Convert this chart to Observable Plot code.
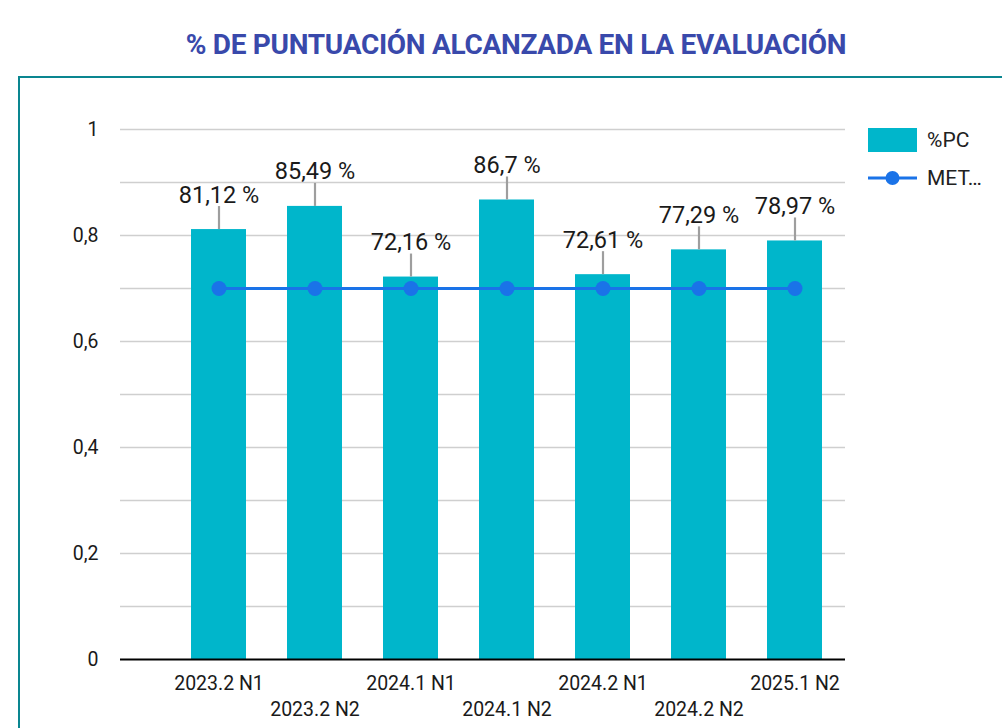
<!DOCTYPE html>
<html>
<head>
<meta charset="utf-8">
<script src="https://cdn.jsdelivr.net/npm/d3@7"></script>
<script src="https://cdn.jsdelivr.net/npm/@observablehq/plot@0.6"></script>
<style>
  html, body { margin: 0; padding: 0; background: #fff; }
  body { width: 1002px; height: 728px; overflow: hidden; font-family: Roboto, sans-serif; position: relative; }
  #title { position: absolute; left: 0; top: 0; width: 1032px; height: 76px; text-align: center;
           font-family: Roboto, sans-serif; font-weight: 700; font-size: 28px; color: #3949ab;
           line-height: 1; padding-top: 31px; box-sizing: border-box; letter-spacing: -0.3px; }
  #frame { position: absolute; left: 18px; top: 76px; width: 984px; height: 652px;
           border-top: 2px solid #0a8690; border-left: 2px solid #0a8690; box-sizing: border-box; }
  #chart { position: absolute; left: 0; top: 0; }
  .legend { position: absolute; font-family: Roboto, sans-serif; font-size: 21px; color: #212121; }
  .legend .row { position: absolute; left: 0; height: 24px; white-space: nowrap; }
  .legend .sw { position: absolute; left: 0; top: 0; width: 49px; height: 24px; }
  .legend .lab { position: absolute; left: 59px; top: 0; line-height: 24px; }
</style>
</head>
<body>
<div id="title"></div>
<div id="frame">
  <div id="chart"></div>
  <div class="legend" id="legend" style="left:848px; top:50px;"></div>
</div>
<script>
const title = "% DE PUNTUACIÓN ALCANZADA EN LA EVALUACIÓN";
const categories = ["2023.2 N1", "2023.2 N2", "2024.1 N1", "2024.1 N2", "2024.2 N1", "2024.2 N2", "2025.1 N2"];
const pcValues = [0.8112, 0.8549, 0.7216, 0.867, 0.7261, 0.7729, 0.7897];
const metaValues = [0.7, 0.7, 0.7, 0.7, 0.7, 0.7, 0.7];
const seriesNames = ["%PC", "MET…"];
const yTicks = [0, 0.2, 0.4, 0.6, 0.8, 1];
const gridTicks = [0.1, 0.2, 0.3, 0.4, 0.5, 0.6, 0.7, 0.8, 0.9, 1];

const barColor = "#00b6cb";
const lineColor = "#1a73e8";

document.getElementById("title").textContent = title;

const data = categories.map((c, i) => ({cat: c, pc: pcValues[i], meta: metaValues[i], i}));
const comma = v => String(v).replace(".", ",");
const pctLabel = v => comma(parseFloat((v * 100).toFixed(2))) + " %";

const chart = Plot.plot({
  width: 982,
  height: 650,
  marginLeft: 100,
  marginRight: 157,
  marginTop: 51,
  marginBottom: 69,
  style: {fontFamily: "Roboto, sans-serif", color: "#212121", background: "transparent"},
  x: {type: "band", domain: categories, paddingInner: 0.43, paddingOuter: 0.48, align: 0.75, axis: null},
  y: {domain: [0, 1], axis: null},
  marks: [
    Plot.ruleY(gridTicks, {stroke: "#cfcfcf", strokeWidth: 1.4}),
    Plot.barY(data, {x: "cat", y: "pc", fill: barColor}),
    Plot.ruleX(data, {x: "cat", y1: "pc", y2: "pc", insetBottom: 23, stroke: "#9e9e9e", strokeWidth: 2.2}),
    Plot.text(data, {x: "cat", y: "pc", text: d => pctLabel(d.pc), dy: -27, lineAnchor: "bottom", fontSize: 23.5, fill: "#1a1a1a"}),
    Plot.line(data, {x: "cat", y: "meta", stroke: lineColor, strokeWidth: 3}),
    Plot.dot(data, {x: "cat", y: "meta", r: 7.5, fill: lineColor, stroke: null}),
    Plot.ruleY([0], {stroke: "#000", strokeWidth: 2}),
    Plot.axisY({ticks: yTicks, tickSize: 0, tickPadding: 22, tickFormat: comma, fontSize: 19.5, fill: "#1a1a1a"}),
    Plot.text(data.filter(d => d.i % 2 === 0), {x: "cat", y: () => 0, text: "cat", dy: 30, lineAnchor: "bottom", fontSize: 19.5, fill: "#1a1a1a"}),
    Plot.text(data.filter(d => d.i % 2 === 1), {x: "cat", y: () => 0, text: "cat", dy: 56, lineAnchor: "bottom", fontSize: 19.5, fill: "#1a1a1a"})
  ]
});
document.getElementById("chart").appendChild(chart);

const legend = document.getElementById("legend");
legend.innerHTML = `
  <div class="row" style="top:0px;"><div class="sw" style="background:${barColor}"></div><div class="lab">${seriesNames[0]}</div></div>
  <div class="row" style="top:38px;">
    <svg class="sw" width="49" height="24" style="overflow:visible">
      <line x1="0" x2="49" y1="12" y2="12" stroke="${lineColor}" stroke-width="3"></line>
      <circle cx="24.5" cy="12" r="7" fill="${lineColor}"></circle>
    </svg>
    <div class="lab">${seriesNames[1]}</div>
  </div>`;
</script>
</body>
</html>
